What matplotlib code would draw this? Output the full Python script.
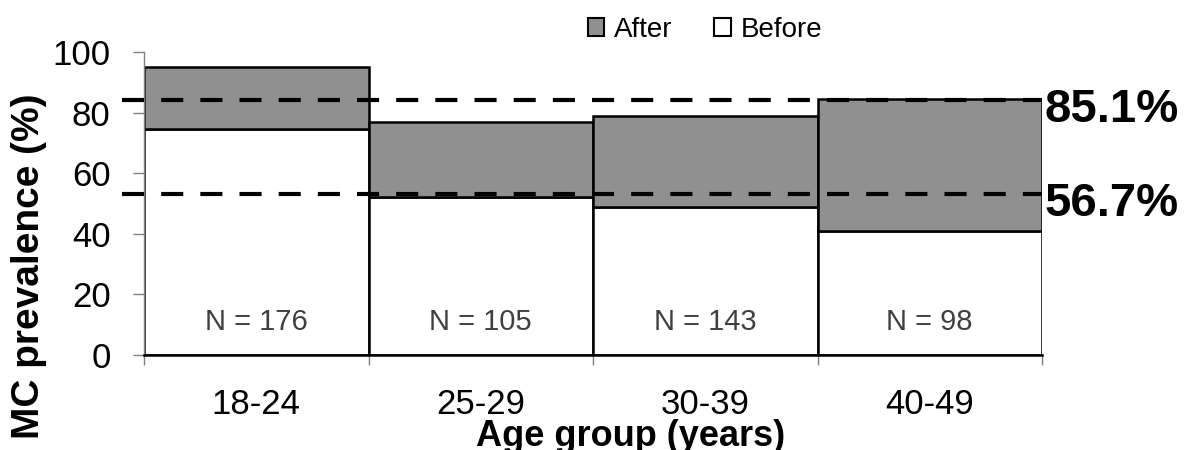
import matplotlib
matplotlib.use('Agg')
import matplotlib.pyplot as plt
from matplotlib.patches import Patch

plt.rcParams['font.family'] = ['Liberation Sans', 'DejaVu Sans']

# data
age_groups = ['18-24', '25-29', '30-39', '40-49']
before = [74.5, 52.3, 48.9, 40.9]
after = [95.0, 77.0, 78.9, 84.6]          # total height after
n_labels = ['N = 176', 'N = 105', 'N = 143', 'N = 98']
ref_levels = [84.0, 53.2]
ref_labels = ['85.1%', '56.7%']

after_color = '#909090'
grey = '#808080'

fig = plt.figure(figsize=(11.87, 4.5), dpi=100)
ax = fig.add_axes([144 / 1187, 1 - 355 / 450, 898 / 1187, 303 / 450])

x = list(range(len(age_groups)))
after_extra = [a - b for a, b in zip(after, before)]

ax.bar(x, before, width=1.0, color='white', edgecolor='black', linewidth=1.8, zorder=2)
ax.bar(x, after_extra, bottom=before, width=1.0, color=after_color,
       edgecolor='black', linewidth=1.8, zorder=2)

ax.set_xlim(-0.5, len(age_groups) - 0.5)
ax.set_ylim(0, 100)

# dashed reference lines, sticking out a little to the left of the axis
x0, x1 = ax.get_xlim()
for lvl, lab in zip(ref_levels, ref_labels):
    ax.plot([x0 - 0.1, x1], [lvl, lvl], color='black', lw=3,
            linestyle=(0, (5.3, 4.1)), clip_on=False, zorder=3)
    ax.annotate(lab, xy=(x1, lvl), xytext=(2, -7), textcoords='offset points',
                ha='left', va='center', fontsize=34, fontweight='bold',
                annotation_clip=False)

# N labels inside the bars
for xi, lab in zip(x, n_labels):
    ax.text(xi, 11, lab, ha='center', va='center', fontsize=21, color='#404040', zorder=4)

# axes styling
for side in ['top', 'right']:
    ax.spines[side].set_visible(False)
ax.spines['left'].set_color(grey)
ax.spines['left'].set_linewidth(1)
ax.spines['bottom'].set_color('black')
ax.spines['bottom'].set_linewidth(1.8)

ax.set_yticks([0, 20, 40, 60, 80, 100])
ax.tick_params(axis='y', direction='out', length=8, width=1, color=grey,
               pad=16, labelsize=25)
ax.set_xticks(x)
ax.set_xticklabels(age_groups)
ax.tick_params(axis='x', which='major', length=0, pad=24, labelsize=25)
ax.set_xticks([i - 0.5 for i in range(len(age_groups) + 1)], minor=True)
ax.tick_params(axis='x', which='minor', direction='out', length=7, width=1, color=grey)

fig.text(29 / 1187, 1 - 266 / 450, 'MC prevalence (%)', rotation=90,
         ha='center', va='center', fontsize=28, fontweight='bold')
fig.text(631 / 1187, 1 - 446 / 450, 'Age group (years)', ha='center',
         va='baseline', fontsize=26, fontweight='bold')

handles = [Patch(facecolor=after_color, edgecolor='black', linewidth=1.5),
           Patch(facecolor='white', edgecolor='black', linewidth=1.5)]
fig.legend(handles, ['After', 'Before'], loc='center', bbox_to_anchor=(705 / 1187, 1 - 30 / 450),
           ncol=2, frameon=False, fontsize=20, handlelength=0.6, handleheight=0.6,
           handletextpad=0.35, columnspacing=1.5, borderpad=0)

fig.savefig('out.png', dpi=100)
